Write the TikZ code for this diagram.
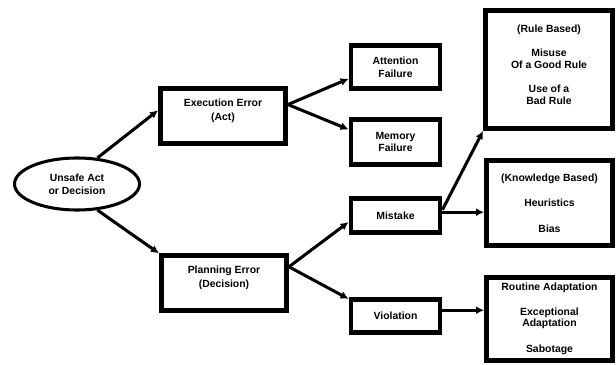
\documentclass[tikz,border=0pt]{standalone}
\usepackage{fontspec}
\setmainfont{Liberation Sans}
\usetikzlibrary{arrows.meta,shapes.geometric,positioning,calc}

\begin{document}
\begin{tikzpicture}[
x=0.03cm, y=-0.03cm,
>={Latex[length=2.4mm,width=2.4mm]}, line width=2.6pt,
font=\fontsize{8.9}{9.8}\selectfont\bfseries,
act-node/.style = {ellipse,draw=black,line width=2.6pt,minimum width=3.75cm,minimum height=1.56cm,align=center,inner sep=0pt},
error-node/.style = {rectangle,draw=black,line width=4.2pt,minimum width=3.75cm,minimum height=1.63cm,align=center,text depth=10.4pt},
type-node/.style = {rectangle,draw=black,line width=4.2pt,minimum width=2.67cm,align=center},
cause-node/.style = {rectangle,draw=black,line width=4.2pt,minimum width=3.78cm,align=center}
]
\useasboundingbox (0,0) rectangle (616,365);

\node [act-node] (act) at (77, 184) {Unsafe Act\\[1pt]or Decision};

\node [error-node] (exec) at (223, 116) {Execution Error\\[2pt](Act)};
\node [error-node] (plan) at (224, 283) {Planning Error\\[2pt](Decision)};

\node [type-node, minimum height=1.29cm] (att) at (395.5, 67) {Attention\\[1pt]Failure};
\node [type-node, minimum height=1.35cm] (mem) at (395.5, 142) {Memory\\[1pt]Failure};
\node [type-node, minimum height=1.02cm] (mis) at (395.5, 215.5) {Mistake};
\node [type-node, minimum height=0.99cm] (vio) at (395.5, 316) {Violation};

\node [cause-node, minimum width=3.81cm, minimum height=3.54cm, text depth=8.5pt] (rule) at (549, 69.5)
  {(Rule Based)\\[11pt]Misuse\\Of a Good Rule\\[11pt]Use of a\\Bad Rule};
\node [cause-node, minimum height=2.55cm] (know) at (549.5, 203)
  {(Knowledge Based)\\[12pt]Heuristics\\[12pt]Bias};
\node [cause-node, minimum height=2.49cm] (rout) at (549.5, 319)
  {Routine Adaptation\\[11pt]Exceptional\\Adaptation\\[12pt]Sabotage};

% arrows
\draw[->] (act.52) -- (exec.175);
\draw[->] (act.-52) -- (plan.north west);
\draw[->] (exec.10) -- (att.194);
\draw[->] (exec.10) -- (mem.165);
\draw[->] (plan.14) -- (mis.188);
\draw[->] (plan.14) -- (vio.160);
\draw[->] (mis.7) -- (rule.south west);
\draw[->] (mis.4) -- (mis.4 -| know.west);
\draw[->] (vio.7) -- (vio.7 -| rout.west);

\end{tikzpicture}
\end{document}
